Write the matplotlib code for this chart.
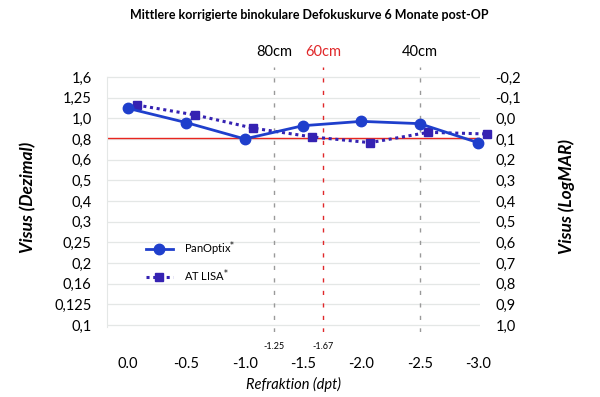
import matplotlib
matplotlib.use("Agg")
import matplotlib.pyplot as plt
import numpy as np

plt.rcParams['font.family'] = ['Lato', 'DejaVu Sans']

# Data (logMAR values)
refraction = [0.0, -0.5, -1.0, -1.5, -2.0, -2.5, -3.0]
panoptix = [-0.048, 0.021, 0.100, 0.036, 0.015, 0.026, 0.118]
atlisa = [-0.064, -0.016, 0.048, 0.090, 0.118, 0.068, 0.076]
lisa_offset = -0.075

logmar_ticks = [-0.2, -0.1, 0.0, 0.1, 0.2, 0.3, 0.4, 0.5, 0.6, 0.7, 0.8, 0.9, 1.0]
decimal_labels = ['1,6', '1,25', '1,0', '0,8', '0,6', '0,5', '0,4', '0,3',
                  '0,25', '0,2', '0,16', '0,125', '0,1']
logmar_labels = ['-0,2', '-0,1', '0,0', '0,1', '0,2', '0,3', '0,4', '0,5',
                 '0,6', '0,7', '0,8', '0,9', '1,0']
xtick_vals = [0.0, -0.5, -1.0, -1.5, -2.0, -2.5, -3.0]
xtick_labels = ['0.0', '-0.5', '-1.0', '-1.5', '-2.0', '-2.5', '-3.0']

distances = [-1.25, -1.67, -2.5]
distance_labels = ['80cm', '60cm', '40cm']
distance_colors = ['#999999', '#e0282a', '#999999']
small_labels_x = [-1.25, -1.67]
small_labels = ['-1.25', '-1.67']
target_logmar = 0.0969  # 0,8 decimal

W, H = 600, 397
fig = plt.figure(figsize=(W / 100, H / 100), dpi=100)
left, right, top, bottom = 107, 480, 67, 332
ax = fig.add_axes([left / W, 1 - bottom / H, (right - left) / W, (bottom - top) / H])

ax.set_xlim(0.18, -3.017)
ax.set_ylim(1.034, -0.248)

for t in logmar_ticks:
    ax.axhline(t, color='#e4e7e6', lw=0.9, zorder=0)

for s in ['top', 'right', 'bottom']:
    ax.spines[s].set_visible(False)
ax.spines['left'].set_color('#e4e7e6')
ax.spines['left'].set_bounds(1.01, -0.2)

ax.set_yticks(logmar_ticks)
ax.set_yticklabels(decimal_labels, fontsize=10.5)
ax.tick_params(axis='y', length=0, pad=11)

ax.set_xticks(xtick_vals)
ax.set_xticklabels(xtick_labels, fontsize=10.5)
ax.tick_params(axis='x', length=0, pad=18)

ax2 = ax.twinx()
ax2.set_ylim(ax.get_ylim())
ax2.set_yticks(logmar_ticks)
ax2.set_yticklabels(logmar_labels, fontsize=10.5)
ax2.tick_params(axis='y', length=0, pad=11)
for s in ax2.spines.values():
    s.set_visible(False)

# reference line
ax.axhline(target_logmar, color='#e8261f', lw=1.0, zorder=1)

# distance lines
for d, lab, c in zip(distances, distance_labels, distance_colors):
    ax.axvline(d, color=c, lw=1.0, linestyle=(0, (3, 6)), zorder=1)
    ax.text(d, 1.057, lab, transform=ax.get_xaxis_transform(), ha='center',
            va='center', fontsize=10.5, color=('#e0282a' if c == '#e0282a' else 'black'))

for xv, lab in zip(small_labels_x, small_labels):
    ax.text(xv, -0.053, lab, transform=ax.get_xaxis_transform(), ha='center',
            va='center', fontsize=6.5)

ax.plot(refraction, panoptix, color='#1f3fcc', lw=2.0, marker='o', ms=7.5,
        label='PanOptix$^{*}$', zorder=4, clip_on=False)
ax.plot(np.array(refraction) + lisa_offset, atlisa, color='#3522b2', lw=2.2,
        linestyle=(0, (1, 1.2)), marker='s', ms=6, label='AT LISA$^{*}$',
        zorder=3, clip_on=False)

fig.legend(loc='center left', bbox_to_anchor=(146 / W, 1 - 262 / H), frameon=False,
           fontsize=8, handlelength=2.4, handletextpad=1.0, labelspacing=0.85,
           borderpad=0, borderaxespad=0)

ax.set_xlabel('Refraktion (dpt)', fontsize=10.5, style='italic', labelpad=4)
fig.text(28 / W, 1 - 197 / H, 'Visus (Dezimal)', rotation=90, ha='center', va='center',
         fontsize=12.5, fontweight='bold', style='italic')
fig.text(567 / W, 1 - 197 / H, 'Visus (LogMAR)', rotation=90, ha='center', va='center',
         fontsize=12.5, fontweight='bold', style='italic')

fig.text(309 / W, 1 - 15 / H, 'Mittlere korrigierte binokulare Defokuskurve 6 Monate post-OP',
         ha='center', va='center', fontsize=9, fontweight='bold')

fig.savefig('out.png', dpi=100)
